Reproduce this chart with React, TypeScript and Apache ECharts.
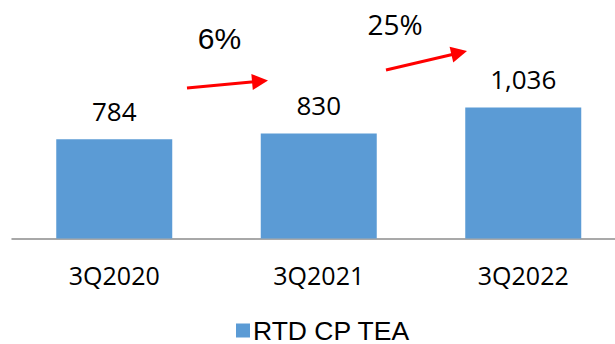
import React, { useEffect, useRef } from "react";
import * as echarts from "echarts";

// Quarterly RTD CP tea volume
const categories = ["3Q2020", "3Q2021", "3Q2022"];
const values = [784, 830, 1036];
const seriesName = "RTD CP TEA";

// Year-on-year growth between consecutive quarters, e.g. "6%"
const growthLabels = values.slice(1).map((v, i) => `${Math.round((v / values[i] - 1) * 100)}%`);

const BAR_COLOR = "#5b9bd5";
const ARROW_COLOR = "#ff0000";

// Build a straight arrow (shaft + triangular head) from start to tip
function arrow(x1: number, y1: number, x2: number, y2: number) {
  const dx = x2 - x1;
  const dy = y2 - y1;
  const len = Math.sqrt(dx * dx + dy * dy);
  const ux = dx / len;
  const uy = dy / len;
  const headLen = 16;
  const headHalf = 8;
  const bx = x2 - ux * headLen;
  const by = y2 - uy * headLen;
  const px = -uy;
  const py = ux;
  return [
    {
      type: "line",
      shape: { x1, y1, x2: bx + ux * 2, y2: by + uy * 2 },
      style: { stroke: ARROW_COLOR, lineWidth: 3 },
      silent: true,
    },
    {
      type: "polygon",
      shape: {
        points: [
          [x2, y2],
          [bx + px * headHalf, by + py * headHalf],
          [bx - px * headHalf, by - py * headHalf],
        ],
      },
      style: { fill: ARROW_COLOR },
      silent: true,
    },
  ];
}

export default function App() {
  const ref = useRef<HTMLDivElement>(null);

  useEffect(() => {
    if (!ref.current) return;
    const chart = echarts.init(ref.current, null, { renderer: "svg" });
    chart.setOption({
      animation: false,
      grid: {
        left: 12,
        top: 36,
        width: 613.5,
        height: 202.5,
        outerBoundsMode: "none",
        containLabel: false,
      },
      legend: {
        data: [seriesName],
        left: 231,
        top: 312,
        itemWidth: 14,
        itemHeight: 14,
        itemGap: 10,
        icon: "rect",
        textStyle: {
          fontFamily: "Liberation Sans, Arial, sans-serif",
          fontSize: 26.5,
          lineHeight: 26,
          color: "#000",
          padding: [0, 0, 0, -2],
        },
      },
      xAxis: {
        type: "category",
        data: categories,
        axisLine: { show: true, lineStyle: { color: "#8c8c8c", width: 1.5 } },
        axisTick: { show: false },
        axisLabel: {
          fontFamily: "Open Sans, sans-serif",
          fontSize: 25,
          lineHeight: 26,
          color: "#000",
          margin: 23,
        },
      },
      yAxis: {
        type: "value",
        min: 0,
        max: 1600,
        show: false,
        splitLine: { show: false },
      },
      series: [
        {
          name: seriesName,
          type: "bar",
          data: values,
          barWidth: 116,
          itemStyle: { color: BAR_COLOR },
          label: {
            show: true,
            position: "top",
            distance: 15,
            fontFamily: "Open Sans, sans-serif",
            fontSize: 26,
            lineHeight: 26,
            color: "#000",
            formatter: (p: any) => Number(p.value).toLocaleString("en-US"),
          },
        },
      ],
      graphic: [
        ...arrow(187, 88, 268, 80.5),
        ...arrow(386, 70, 467, 51),
        {
          type: "text",
          x: 219.5,
          y: 38.5,
          style: {
            text: growthLabels[0],
            fontFamily: "Liberation Sans, Arial, sans-serif",
            fontSize: 30,
            fill: "#000",
            align: "center",
            verticalAlign: "middle",
          },
          silent: true,
        },
        {
          type: "text",
          x: 395,
          y: 23.5,
          style: {
            text: growthLabels[1],
            fontFamily: "Open Sans, sans-serif",
            fontSize: 28,
            fill: "#000",
            align: "center",
            verticalAlign: "middle",
          },
          silent: true,
        },
      ],
    });
    return () => chart.dispose();
  }, []);

  return (
    <div
      ref={ref}
      style={{ position: "absolute", left: 0, top: 0, width: 615, height: 344, background: "#fff" }}
    />
  );
}
